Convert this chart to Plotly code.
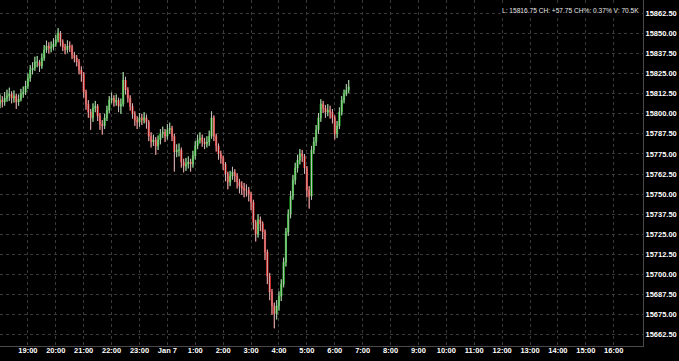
import pandas as pd
import plotly.graph_objects as go

# 5-minute bars starting Jan 6 18:00
opens = [15806.0,15808.5,15807.25,15809.75,15811.0,15812.25,15809.75,15811.0,15807.25,15809.0,
         15812.25,15813.5,15817.25,15822.25,15827.25,15828.5,15832.25,15832.25,15829.75,15834.75,
         15839.75,15842.25,15840.75,15841.5,15843.5,15846.0,15850.25,15844.5,15841.5,15839.75,
         15842.25,15841.5,15836.5,15834.75,15832.25,15827.25,15824.75,15813.5,15806.0,15801.0,
         15797.5,15803.5,15804.75,15798.5,15793.5,15792.5,15797.5,15802.25,15808.5,15809.75,
         15807.25,15808.5,15804.75,15806.0,15821.0,15814.75,15809.75,15804.75,15799.75,15796.0,
         15794.75,15797.5,15796.0,15797.5,15794.75,15786.0,15782.5,15783.75,15780.0,15783.75,
         15787.5,15788.5,15786.0,15790.0,15791.0,15786.0,15776.25,15777.5,15777.5,15770.0,
         15767.5,15768.75,15770.0,15768.75,15773.75,15780.0,15783.75,15785.0,15782.5,15781.25,
         15782.5,15786.0,15797.5,15786.0,15780.0,15775.0,15772.5,15768.75,15762.5,15757.5,
         15761.25,15763.75,15761.25,15757.5,15755.0,15753.75,15752.5,15752.5,15750.0,15745.0,
         15732.5,15725.25,15734.0,15731.5,15726.5,15714.0,15699.0,15689.0,15680.5,15675.5,
         15680.5,15686.5,15694.0,15707.75,15726.5,15737.5,15748.75,15758.75,15766.25,15771.25,
         15775.0,15773.75,15766.25,15752.5,15748.75,15777.5,15782.5,15790.0,15797.5,15806.0,
         15803.5,15801.0,15802.25,15801.0,15797.5,15787.5,15792.5,15801.0,15808.5,15812.25,
         15814.75]
highs = [15812.0,15811.0,15813.5,15815.0,15816.25,15814.0,15814.5,15812.5,15812.0,15815.5,
         15817.0,15820.5,15825.0,15830.25,15832.0,15835.5,15836.0,15833.5,15837.5,15842.75,
         15845.5,15844.5,15845.0,15847.0,15849.25,15853.25,15851.5,15846.25,15843.5,15845.75,
         15845.0,15843.0,15838.5,15836.5,15834.0,15829.5,15826.0,15815.0,15808.5,15803.0,
         15806.5,15808.0,15806.0,15800.5,15796.0,15800.0,15805.0,15811.0,15813.25,15811.5,
         15812.0,15810.0,15809.5,15826.0,15823.0,15816.5,15811.5,15806.5,15801.5,15798.5,
         15800.5,15800.0,15801.0,15799.5,15796.0,15788.5,15787.0,15785.5,15786.5,15790.5,
         15792.0,15790.5,15793.5,15794.5,15792.5,15787.5,15781.0,15781.5,15779.0,15772.0,
         15772.5,15773.5,15772.0,15777.0,15783.0,15787.0,15788.5,15787.0,15785.0,15786.0,
         15789.5,15801.5,15799.0,15787.5,15781.5,15777.0,15774.0,15770.0,15764.0,15764.5,
         15767.0,15765.5,15763.0,15759.5,15758.0,15757.0,15756.0,15754.5,15751.5,15746.5,
         15734.0,15737.5,15736.0,15733.0,15728.0,15715.5,15701.0,15691.0,15682.5,15684.0,
         15689.5,15697.0,15710.5,15729.0,15740.5,15752.0,15762.0,15769.5,15774.5,15778.0,
         15777.5,15775.0,15767.5,15755.0,15780.0,15785.5,15793.0,15800.5,15809.0,15808.0,
         15805.5,15806.0,15805.0,15803.0,15799.0,15795.5,15804.0,15811.0,15815.0,15818.5,
         15821.0]
lows = [15803.5,15804.0,15805.0,15807.5,15808.0,15806.5,15807.0,15803.0,15805.0,15807.75,
        15810.0,15811.75,15815.5,15820.0,15824.5,15826.75,15829.0,15826.0,15828.0,15833.0,
        15838.0,15837.5,15838.25,15839.5,15841.75,15844.5,15842.0,15839.0,15837.0,15838.0,
        15838.5,15834.0,15832.0,15829.5,15824.5,15820.0,15810.0,15802.5,15797.5,15790.0,
        15795.0,15801.0,15795.5,15790.0,15787.0,15790.5,15795.5,15800.5,15806.5,15804.5,
        15805.0,15801.0,15800.0,15804.5,15812.0,15807.0,15802.0,15797.0,15792.5,15790.5,
        15792.0,15793.0,15794.0,15790.75,15783.0,15779.0,15780.0,15774.5,15777.5,15781.0,
        15785.0,15782.5,15784.0,15787.5,15783.0,15764.0,15773.0,15773.5,15766.5,15763.5,
        15764.5,15766.0,15764.0,15766.5,15771.5,15778.0,15781.5,15779.5,15778.0,15779.0,
        15780.0,15784.5,15783.0,15776.5,15771.5,15769.0,15765.0,15758.0,15753.0,15755.0,
        15759.0,15757.5,15753.5,15750.5,15749.5,15748.0,15748.5,15745.5,15740.0,15728.0,
        15720.5,15723.0,15727.0,15722.0,15709.0,15694.0,15684.0,15675.0,15666.5,15672.0,
        15677.5,15683.5,15692.0,15705.0,15724.0,15735.0,15746.5,15756.0,15763.5,15768.5,
        15770.0,15762.5,15748.0,15741.0,15746.5,15775.0,15780.0,15787.5,15795.0,15800.5,
        15797.5,15798.5,15797.0,15794.0,15784.0,15785.0,15790.5,15799.0,15806.5,15811.0,
        15813.0]
closes = [15808.5,15807.25,15809.75,15811.0,15812.25,15809.75,15811.0,15807.25,15809.0,15812.25,
          15813.5,15817.25,15822.25,15827.25,15828.5,15832.25,15832.25,15829.75,15834.75,15839.75,
          15842.25,15840.75,15841.5,15843.5,15846.0,15850.25,15844.5,15841.5,15839.75,15842.25,
          15841.5,15836.5,15834.75,15832.25,15827.25,15824.75,15813.5,15806.0,15801.0,15797.5,
          15803.5,15804.75,15798.5,15793.5,15792.5,15797.5,15802.25,15808.5,15809.75,15807.25,
          15808.5,15804.75,15806.0,15821.0,15814.75,15809.75,15804.75,15799.75,15796.0,15794.75,
          15797.5,15796.0,15797.5,15794.75,15786.0,15782.5,15783.75,15780.0,15783.75,15787.5,
          15788.5,15786.0,15790.0,15791.0,15786.0,15776.25,15777.5,15777.5,15770.0,15767.5,
          15768.75,15770.0,15768.75,15773.75,15780.0,15783.75,15785.0,15782.5,15781.25,15782.5,
          15786.0,15797.5,15786.0,15780.0,15775.0,15772.5,15768.75,15762.5,15757.5,15761.25,
          15763.75,15761.25,15757.5,15755.0,15753.75,15752.5,15752.5,15750.0,15745.0,15732.5,
          15725.25,15734.0,15731.5,15726.5,15714.0,15699.0,15689.0,15680.5,15675.5,15680.5,
          15686.5,15694.0,15707.75,15726.5,15737.5,15748.75,15758.75,15766.25,15771.25,15775.0,
          15773.75,15766.25,15752.5,15748.75,15777.5,15782.5,15790.0,15797.5,15806.0,15803.5,
          15801.0,15802.25,15801.0,15797.5,15787.5,15792.5,15801.0,15808.5,15812.25,15814.75,
          15816.75]

hour_ticks = ["2022-01-06 %02d:00" % h for h in range(19, 24)] + \
             ["2022-01-07 %02d:00" % h for h in range(0, 17)]
hour_labels = ["19:00", "20:00", "21:00", "22:00", "23:00", "Jan 7", "1:00", "2:00", "3:00",
               "4:00", "5:00", "6:00", "7:00", "8:00", "9:00", "10:00", "11:00", "12:00",
               "13:00", "14:00", "15:00", "16:00"]
info_text = "L: 15816.75 CH: +57.75 CH%: 0.37% V: 70.5K"

times = pd.date_range("2022-01-06 18:00", periods=len(closes), freq="5min")

# wick segments (grey) drawn over the coloured bodies
wick_x, wick_y = [], []
for t, h, l in zip(times, highs, lows):
    wick_x += [t, t, None]
    wick_y += [l, h, None]

fig = go.Figure()
fig.add_trace(go.Candlestick(
    x=times, open=opens, high=highs, low=lows, close=closes,
    increasing=dict(line=dict(color="#1fc81f", width=1), fillcolor="#1fc81f"),
    decreasing=dict(line=dict(color="#ff1a1a", width=1), fillcolor="#ff1a1a"),
    showlegend=False))
fig.add_trace(go.Scatter(
    x=wick_x, y=wick_y, mode="lines",
    line=dict(color="#bdbdbd", width=1),
    showlegend=False, hoverinfo="skip"))

tickfont = dict(family="Liberation Sans", size=7.5, color="white", weight="bold")
fig.update_layout(
    width=679, height=361,
    paper_bgcolor="black", plot_bgcolor="black",
    margin=dict(l=0, r=36, t=0, b=15),
    xaxis=dict(
        type="date", range=["2022-01-06 18:00", "2022-01-07 17:03"],
        rangeslider=dict(visible=False),
        tickvals=hour_ticks, ticktext=hour_labels,
        tickfont=tickfont, showgrid=True, gridcolor="#3a3a3a", griddash="dot", gridwidth=1,
        showline=True, linecolor="#4a4a4a", linewidth=1, zeroline=False,
        ticks="", ticklabelstandoff=-3, automargin=False),
    yaxis=dict(
        side="right", range=[15655.5, 15870.8],
        tick0=15662.5, dtick=12.5, tickformat=".2f",
        tickfont=tickfont, showgrid=True, gridcolor="#3a3a3a", griddash="dot", gridwidth=1,
        showline=True, linecolor="#4a4a4a", linewidth=1, zeroline=False,
        ticks="", automargin=False),
    annotations=[dict(
        text=info_text, xref="paper", yref="paper", x=0.997, y=0.971,
        xanchor="right", yanchor="middle", showarrow=False,
        font=dict(family="Liberation Sans", size=6.6, color="#e8e8e8"),
        bgcolor="black")],
)
fig.write_html("out.html")
